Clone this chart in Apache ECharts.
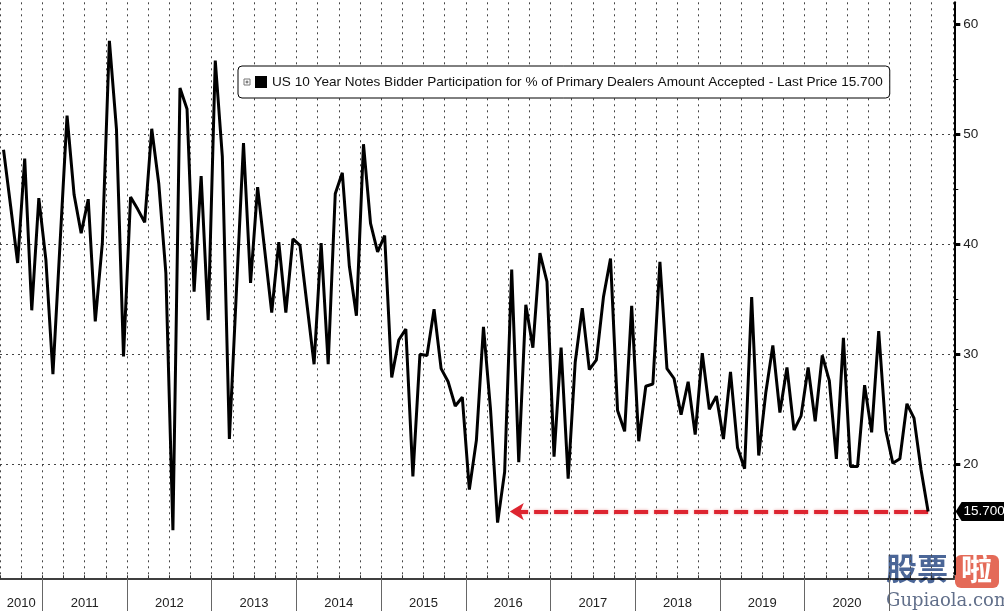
<!DOCTYPE html>
<html><head><meta charset="utf-8">
<script src="https://cdn.jsdelivr.net/npm/echarts@6/dist/echarts.min.js"></script>
<style>html,body{margin:0;padding:0;background:#fff}#c{width:1004px;height:611px}</style>
</head><body><div id="c"></div>
<script>
const seriesName = 'US 10 Year Notes Bidder Participation for % of Primary Dealers Amount Accepted - Last Price 15.700';
const firstMonth = [2010, 7];
const values = [
  48.6, 43.5, 38.3, 47.8, 34.0, 44.2, 38.6, 28.2, 40.0, 51.7, 44.5, 41.0,
  44.1, 33.0, 40.1, 58.5, 50.5, 29.8, 44.3, 43.2, 42.0, 50.5, 45.5, 37.4,
  14.0, 54.2, 52.3, 35.7, 46.2, 33.1, 56.7, 48.0, 22.3, 35.8, 49.2, 36.5,
  45.2, 39.5, 33.8, 40.2, 33.8, 40.5, 39.9, 34.5, 29.1, 40.1, 29.1, 44.6,
  46.5, 38.0, 33.5, 49.1, 41.9, 39.3, 40.8, 27.9, 31.3, 32.3, 18.9, 30.0,
  29.9, 34.1, 28.7, 27.5, 25.3, 26.1, 17.7, 22.2, 32.5, 25.0, 14.7, 19.3,
  37.7, 20.2, 34.5, 30.6, 39.2, 36.6, 20.7, 30.6, 18.7, 29.3, 34.2, 28.6,
  29.5, 35.2, 38.7, 24.9, 23.0, 34.4, 22.1, 27.1, 27.3, 38.4, 28.7, 27.8,
  24.5, 27.5, 22.7, 30.1, 25.0, 26.2, 22.3, 28.4, 21.5, 19.6, 35.2, 20.8,
  26.5, 30.8, 24.7, 28.8, 23.1, 24.4, 28.8, 23.9, 29.9, 27.6, 20.5, 31.5,
  19.8, 19.8, 27.2, 22.9, 32.1, 23.1, 20.1, 20.5, 25.5, 24.2, 19.5, 15.7
];
const yTicks = [20, 30, 40, 50, 60];
const yMinorTicks = [15, 25, 35, 45, 55];
const years = [2010, 2011, 2012, 2013, 2014, 2015, 2016, 2017, 2018, 2019, 2020];
const lastLabel = '15.700';
const arrowToDate = [2016, 7, 8];

// month position (months since Jan 2010, mid-month)
const monthPos = (y, m) => (y - 2010) * 12 + (m - 1) + 0.5;
const datePos = (y, m, d) => (y - 2010) * 12 + (m - 1) + (d - 1) / 30;
const x0 = monthPos(firstMonth[0], firstMonth[1]);
const data = values.map((v, i) => [x0 + i, v]);
const xMin = 6, xMax = 141.21;
const yearBounds = years.slice(1).concat([2021]).map(y => (y - 2010) * 12);
const yearMids = years.map(y => {
  const s = Math.max((y - 2010) * 12, xMin), e = (y - 2009) * 12;
  return (s + e) / 2;
});
const last = data[data.length - 1];
const arrowTo = datePos(arrowToDate[0], arrowToDate[1], arrowToDate[2]);

const FONT = 'Liberation Sans';
const dotted = { color: '#444', width: 1, type: [2, 4] };

const chart = echarts.init(document.getElementById('c'), null, { renderer: 'canvas' });
chart.setOption({
  animation: false,
  backgroundColor: '#fff',
  textStyle: { fontFamily: FONT },
  grid: { left: -2.83, right: 49.7, top: 2.3, bottom: 36.7, containLabel: false },
  legend: {
    data: [{ name: seriesName, icon: 'rect' }],
    left: 238, top: 66, z: 10,
    itemWidth: 12, itemHeight: 12, itemGap: 4,
    selectedMode: false,
    backgroundColor: '#fff',
    borderColor: '#000', borderWidth: 1, borderRadius: 4,
    padding: [9, 7, 9, 17],
    textStyle: { fontSize: 13.6, color: '#111', fontFamily: FONT }
  },
  xAxis: [
    {
      type: 'value', min: xMin, max: xMax, interval: 3, position: 'bottom', offset: 4,
      axisLine: { show: true, lineStyle: { color: '#000', width: 1.5 } },
      axisTick: { show: true, inside: true, length: 3, lineStyle: { color: '#333' } },
      axisLabel: { show: false },
      splitLine: { show: true, lineStyle: dotted }
    },
    {
      type: 'value', min: xMin, max: xMax, position: 'bottom', offset: 4,
      axisLine: { show: false },
      axisTick: { show: true, customValues: yearBounds, length: 33, lineStyle: { color: '#666', width: 1 } },
      axisLabel: {
        show: true, customValues: yearMids, margin: 19, fontSize: 13, color: '#222',
        formatter: v => String(2010 + Math.floor(v / 12))
      },
      splitLine: { show: false }
    }
  ],
  yAxis: [
    {
      type: 'value', min: 10, max: 62, interval: 10, position: 'right',
      axisLine: { show: true, lineStyle: { color: '#000', width: 2 } },
      axisTick: { show: true, customValues: yTicks, length: 6, lineStyle: { color: '#000', width: 3 } },
      axisLabel: { show: true, customValues: yTicks, margin: 9, fontSize: 13.5, color: '#222' },
      splitLine: { show: true, showMaxLine: false, lineStyle: dotted }
    },
    {
      type: 'value', min: 10, max: 62, position: 'right',
      axisLine: { show: false },
      axisTick: { show: true, customValues: yMinorTicks, length: 4, lineStyle: { color: '#000', width: 1 } },
      axisLabel: { show: false },
      splitLine: { show: false }
    }
  ],
  series: [{
    name: seriesName,
    type: 'line',
    data: data,
    showSymbol: false,
    symbol: 'none',
    color: '#000',
    lineStyle: { color: '#000', width: 3 },
    z: 5,
    markLine: {
      silent: true,
      symbol: ['none', 'arrow'],
      symbolSize: [13, 14],
      label: { show: false },
      lineStyle: { color: '#dd2530', width: 4, type: [14, 6], shadowBlur: 3, shadowColor: 'rgba(200,0,0,0.35)' },
      data: [[{ coord: [last[0], last[1]] }, { coord: [arrowTo, last[1]] }]]
    },
    markPoint: {
      silent: true,
      symbol: 'path://M0,10 L6,0 L51,0 L51,20 L6,20 Z',
      symbolSize: [51, 19],
      symbolOffset: [53, 0],
      itemStyle: { color: '#000' },
      label: { show: true, position: 'inside', offset: [3, 0], formatter: lastLabel, color: '#fff', fontSize: 13.5, fontFamily: FONT },
      data: [{ coord: [last[0], last[1]] }]
    }
  }],
  graphic: [
    { type: 'group', left: 243, top: 78, z: 200, children: [
      { type: 'rect', z: 200, shape: { x: 0, y: 0, width: 6, height: 6 }, style: { fill: '#fff', stroke: '#777', lineWidth: 1 } },
      { type: 'line', z: 201, shape: { x1: 1.5, y1: 3, x2: 4.5, y2: 3 }, style: { stroke: '#555', lineWidth: 1 } },
      { type: 'line', z: 201, shape: { x1: 3, y1: 1.5, x2: 3, y2: 4.5 }, style: { stroke: '#555', lineWidth: 1 } }
    ]},
    { type: 'group', left: 886, top: 553, z: 100, children: [
      { type: 'text', x: 0, y: 0, style: { text: '股票', font: 'bold 31px "Noto Sans CJK SC"', fill: 'rgba(55,85,140,0.9)' } },
      { type: 'rect', shape: { x: 69, y: 2, width: 44, height: 33, r: 6 }, style: { fill: 'rgba(225,90,70,0.9)' } },
      { type: 'text', x: 75, y: 0, style: { text: '啦', font: 'bold 31px "Noto Sans CJK SC"', fill: '#fff' } },
      { type: 'text', x: 0, y: 39, style: { text: 'Gupiaola.com', font: '18px "DejaVu Serif"', fill: 'rgba(80,95,125,0.9)' } }
    ]}
  ]
});
</script></body></html>
